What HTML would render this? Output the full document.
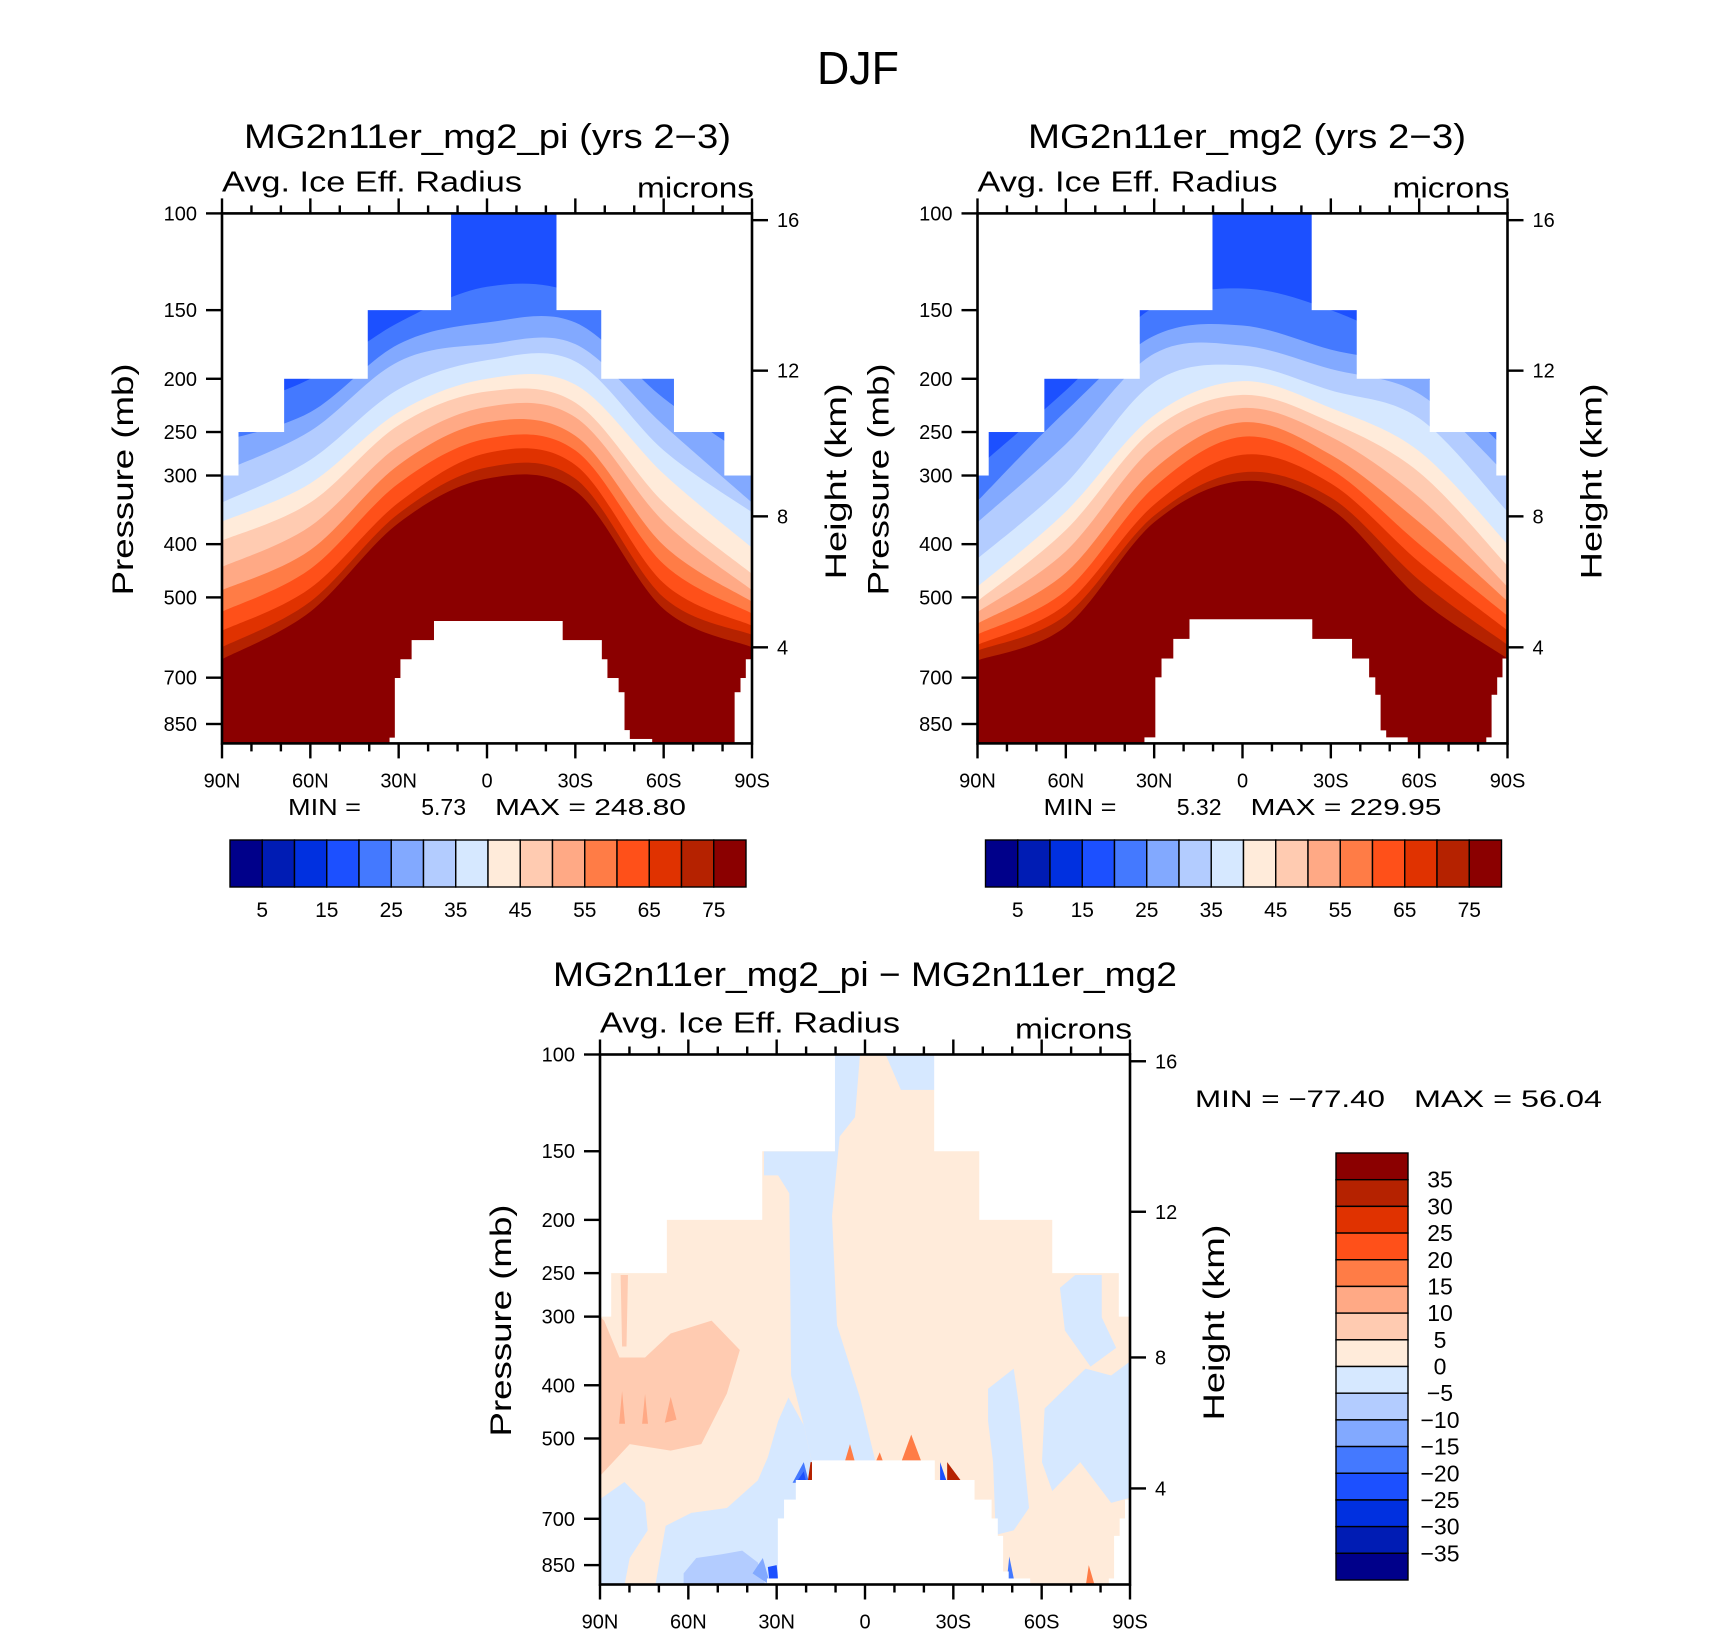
<!DOCTYPE html>
<html><head><meta charset="utf-8"><style>
html,body{margin:0;padding:0;background:#fff;}
svg{display:block;font-family:"Liberation Sans",sans-serif;}
</style></head><body>
<svg id="fig" width="1710" height="1631" viewBox="0 0 1710 1631" xmlns="http://www.w3.org/2000/svg"></svg>
<script>
// ---------- data ----------
const palette=['#00008a','#001cb4','#0030e0','#1c50ff','#4479ff','#82a9ff','#b3ccff','#d6e8ff','#ffebda','#ffcbb1','#ffa985','#ff7c46','#ff5019','#e03200','#b52200','#8b0000'];
const cbLabels=['5','15','25','35','45','55','65','75'];
const diffLabels=['35','30','25','20','15','10','5','0','\u22125','\u221210','\u221215','\u221220','\u221225','\u221230','\u221235'];
const latTicks=[90,60,30,0,-30,-60,-90];
const latLabels=['90N','60N','30N','0','30S','60S','90S'];
const presTicks=[100,150,200,250,300,400,500,700,850];
const heightTicks=[16,12,8,4];
const bandLats=[90,60,30,0,-30,-60,-90];
const bandLevels=[20,25,30,35,40,45,50,55,60,65,70,75];
const bandsPI=[
 [230,200,158,136,140,185,250],
 [260,230,173,158,158,217,280],
 [295,249,186,173,173,243,336],
 [336,281,209,185,186,270,350],
 [364,310,230,200,205,298,406],
 [394,336,243,211,221,336,453],
 [440,371,265,225,235,364,485],
 [485,410,287,240,254,402,509],
 [531,444,310,257,270,435,535],
 [575,481,336,273,287,471,563],
 [616,509,352,290,304,500,585],
 [648,531,366,304,320,525,616]];
const bandsMG2=[
 [290,210,148,137,150,180,240],
 [334,229,167,160,177,195,270],
 [365,263,180,174,192,213,300],
 [425,310,203,189,210,236,349],
 [478,349,233,202,226,271,400],
 [508,377,247,214,240,296,438],
 [532,412,266,226,255,329,478],
 [558,451,292,240,275,365,508],
 [584,486,315,255,292,400,540],
 [610,515,339,275,310,431,574],
 [625,539,355,296,329,465,610],
 [651,565,365,307,345,502,646]];
const topPI=[[90,84.5,300],[84.5,69,250],[69,40.6,200],[40.6,12.3,150],[12.3,-23.7,100],[-23.7,-38.9,150],[-38.9,-63.6,200],[-63.6,-80.7,250],[-80.7,-90,300]];
const terrPI=[[33,31.2,900],[31.2,29.3,701],[29.3,25.5,648],[25.5,17.9,598],[17.9,-25.6,552],[-25.6,-38.9,598],[-38.9,-40.8,648],[-40.8,-44.6,701],[-44.6,-46.6,744],[-46.6,-48.4,872],[-48.4,-56,905],[-84.2,-86.2,744],[-86.2,-88,701],[-88,-90,648]];
const topMG2=[[90,86.3,300],[86.3,67.4,250],[67.4,35,200],[35,10.3,150],[10.3,-23.6,100],[-23.6,-38.9,150],[-38.9,-63.7,200],[-63.7,-86.3,250],[-86.3,-90,300]];
const terrMG2=[[33.2,29.5,899],[29.5,27.4,699],[27.4,23.4,646],[23.4,17.9,595],[17.9,-23.6,548],[-23.6,-37.1,595],[-37.1,-42.9,646],[-42.9,-45,699],[-45,-46.8,752],[-46.8,-48.7,873],[-48.7,-56,899],[-82.9,-84.7,899],[-84.7,-86.6,752],[-86.6,-88.4,699],[-88.4,-90,646]];
// difference regions: [lat, pressure] vertices, with colour index
const diffBlobA=[[90,300],[88.6,305],[83.4,356],[74.7,356],[66,322],[52.1,305],[42.5,345],[46.9,414],[55.6,512],[66,526],[79.9,512],[90,585]];
const diffStreak=[[83,252],[80.5,252],[81,340],[82.5,340]];
const diffSpot1=[[82.5,410],[83.5,470],[81.5,470]];
const diffSpot2=[[74.7,415],[75.7,470],[73.7,470]];
const diffSpot3=[[66,420],[68,468],[64,462]];
const diffBlueB=[[34.3,150],[10.3,150],[10.3,100],[1.7,100],[3.4,130],[8.6,141],[11.2,197],[9.5,311],[1.7,421],[-3.6,552],[18,552],[20.8,473],[25.1,384],[25.7,179],[29.5,166],[34.3,166]];
const diffBlueC1=[[90,645],[81.7,600],[74.7,655],[73.8,735],[79.9,825],[81.7,925],[90,925]];
const diffBlueC2=[[71.2,925],[67.7,721],[59,683],[46.9,669],[36.4,596],[33,541],[29.5,465],[26,421],[20.8,473],[18,552],[19,925]];
const diffBlueC3=[[61.6,880],[57.3,825],[48.6,812],[41.7,800],[36.4,841],[33.8,925],[61.6,925]];
const diffBlueC4=[[38.2,880],[34.7,825],[32.1,925]];
const diffBlueC5=[[33,857],[30,850],[29.5,900],[32.5,905]];
const diffBlueD1=[[-41.8,406],[-50.5,373],[-52.2,431],[-55.7,669],[-50.5,735],[-44.4,749],[-43.5,552],[-41.8,465]];
const diffBlueD2=[[-90,362],[-83.6,384],[-74.9,373],[-61,441],[-60.1,552],[-63.6,623],[-73.1,552],[-83.6,655],[-90,641]];
const diffBlueD3=[[-66.2,266],[-71.4,252],[-80.4,252],[-80.4,301],[-85.3,342],[-76.6,370],[-67.9,318]];
const diffBlueTop=[[-7,100],[-12.2,116],[-23.6,116],[-23.7,100]];
const diffE1=[[24.6,602],[20.8,552],[19,602]];
const diffE2=[[23.4,602],[20.8,574],[19.9,602]];
const diffE3=[[19.5,602],[18.5,552],[18,552],[18,602]];
const diffE4=[[-25.5,552],[-27.9,602],[-25.5,602]];
const diffE5=[[-27.9,552],[-33.1,602],[-27.9,602]];
const diffE6=[[-12.3,552],[-15.7,492],[-19.2,552]];
const diffE7=[[6.9,552],[5.1,512],[3.4,552]];
const diffE8=[[-3.6,552],[-5,530],[-6.2,552]];
const diffE9=[[-75,925],[-76,850],[-78,925]];
const diffE10=[[-48,925],[-49,820],[-51,925]];
const diffRegions=[[diffBlobA,9],[diffStreak,9],[diffSpot1,10],[diffSpot2,10],[diffSpot3,10],[diffBlueB,7],[diffBlueC1,7],[diffBlueC2,7],[diffBlueC3,6],[diffBlueC4,5],[diffBlueC5,3],[diffBlueD1,7],[diffBlueD2,7],[diffBlueD3,7],[diffBlueTop,7],[diffE1,4],[diffE2,3],[diffE3,14],[diffE4,3],[diffE5,14],[diffE6,11],[diffE7,11],[diffE8,11],[diffE9,11],[diffE10,4]];

// ---------- helpers ----------
const NS='http://www.w3.org/2000/svg';
const svg=document.getElementById('fig');
const W=530,H=530,PBOT=922;
function mk(tag,parent){const e=document.createElementNS(NS,tag);parent.appendChild(e);return e;}
function setA(e,o){for(const k in o)e.setAttribute(k,o[k]);return e;}
function txt(parent,s,x,y,size,anchor,len){const t=mk('text',parent);setA(t,{x:x,y:y,'font-size':size,'text-anchor':anchor||'start',fill:'#000'});if(len){t.setAttribute('textLength',len);t.setAttribute('lengthAdjust','spacingAndGlyphs');}t.textContent=s;return t;}
function scales(x0,y0){return{x:lat=>x0+(90-lat)/180*W,y:p=>y0+Math.log(p/100)/Math.log(PBOT/100)*H};}
function stdP(km){const z=km*1000;if(z<=11000)return 1013.25*Math.pow(1-2.25577e-5*z,5.25588);return 226.32*Math.exp(-(z-11000)/6341.6);}
function smooth(pts){let d='M'+pts[0][0]+','+pts[0][1];for(let i=0;i<pts.length-1;i++){const p0=pts[i-1]||pts[i],p1=pts[i],p2=pts[i+1],p3=pts[i+2]||p2;const c1=[p1[0]+(p2[0]-p0[0])/6,p1[1]+(p2[1]-p0[1])/6],c2=[p2[0]-(p3[0]-p1[0])/6,p2[1]-(p3[1]-p1[1])/6];d+=' C'+c1+' '+c2+' '+p2;}return d;}

function axes(g,s,x0,y0,cfg){
  const fr=mk('rect',g);setA(fr,{x:x0,y:y0,width:W,height:H,fill:'none',stroke:'#000','stroke-width':2.6});
  
  for(let lat=90;lat>=-90;lat-=10){const X=s.x(lat);const major=(lat%30===0);const L=major?15:8;
    const b=mk('line',g);setA(b,{x1:X,x2:X,y1:y0+H,y2:y0+H+L,stroke:'#000','stroke-width':2.4});
    
    const t=mk('line',g);setA(t,{x1:X,x2:X,y1:y0,y2:y0-L,stroke:'#000','stroke-width':2.4});
    }
  latTicks.forEach((lat,i)=>{const t=txt(g,latLabels[i],s.x(lat),y0+H+44,20,'middle');
    });
  presTicks.forEach(p=>{const Y=s.y(p);const l=mk('line',g);setA(l,{x1:x0-16,x2:x0,y1:Y,y2:Y,stroke:'#000','stroke-width':2.4});
    
    const t=txt(g,String(p),x0-25,Y+7,20,'end');});
  heightTicks.forEach(h=>{const Y=s.y(stdP(h));const l=mk('line',g);setA(l,{x1:x0+W,x2:x0+W+16,y1:Y,y2:Y,stroke:'#000','stroke-width':2.4});
    
    const t=txt(g,String(h),x0+W+25,Y+7,20,'start');});
  const py=mk('text',g);setA(py,{transform:'translate('+(x0-89)+','+(y0+266)+') rotate(-90)','font-size':30,'text-anchor':'middle',textLength:232,lengthAdjust:'spacingAndGlyphs'});py.textContent='Pressure  (mb)';
  
  const hy=mk('text',g);setA(hy,{transform:'translate('+(x0+W+94)+','+(y0+268)+') rotate(-90)','font-size':30,'text-anchor':'middle',textLength:196,lengthAdjust:'spacingAndGlyphs'});hy.textContent='Height  (km)';
  
  const a=txt(g,'Avg. Ice Eff. Radius',x0,y0-22,29,'start',300);
  const m=txt(g,'microns',x0+W+2,y0-16,29,'end',117);
}
function masks(g,s,y0,top,terr){
  top.forEach(r=>{const a=mk('rect',g);setA(a,{x:s.x(r[0])-0.3,y:y0-1,width:s.x(r[1])-s.x(r[0])+0.6,height:s.y(r[2])-y0+1,fill:'#fff'});
    });
  terr.forEach(r=>{const a=mk('rect',g);setA(a,{x:s.x(r[0])-0.3,y:s.y(r[2]),width:s.x(r[1])-s.x(r[0])+0.6,height:y0+H-s.y(r[2])+1,fill:'#fff'});
    });
}
let clipN=0;
function clipFor(g,x0,y0){const id='c'+(clipN++);const cp=mk('clipPath',g);cp.setAttribute('id',id);const r=mk('rect',cp);setA(r,{x:x0,y:y0,width:W,height:H});const cg=mk('g',g);cg.setAttribute('clip-path','url(#'+id+')');return cg;}

function meanPanel(name,x0,y0,bands,top,terr,title,tx0,tx1,minS,maxS){
  const g=mk('g',svg);
  const s=scales(x0,y0);
  const cg=clipFor(g,x0,y0);
  const base=mk('rect',cg);setA(base,{x:x0,y:y0,width:W,height:H,fill:palette[3]});
  
  bands.forEach((row,k)=>{
    const pts=bandLats.map((lat,i)=>[s.x(lat),s.y(row[i])]);
    const p=mk('path',cg);setA(p,{d:smooth(pts)+' L'+(x0+W+2)+','+(y0+H+2)+' L'+(x0-2)+','+(y0+H+2)+' Z',fill:palette[4+k]});
    
  });
  masks(cg,s,y0,top,terr);
  axes(g,s,x0,y0);
  const t=txt(g,title,tx0,148,34,'start',tx1-tx0);
  const m1=txt(g,'MIN  =',x0+66,815,23,'start',73);
  const m2=txt(g,minS,x0+244,815,23,'end');
  const m3=txt(g,'MAX  =  '+maxS,x0+273,815,23,'start',191);
  // colorbar
  const cx=x0+8,cw=516,cy=840,ch=47,bw=cw/16;
  palette.forEach((c,i)=>{const r=mk('rect',g);setA(r,{x:cx+i*bw,y:cy,width:bw,height:ch,fill:c,stroke:'#000','stroke-width':1.4});
    });
  cbLabels.forEach((l,i)=>{const t2=txt(g,l,cx+(2*i+1)*bw,917,21,'middle');});
}

// figure title
const dj=txt(svg,'DJF',858,84,46,'middle',82);

meanPanel('panel-mg2-pi',222,213.4,bandsPI,topPI,terrPI,'MG2n11er_mg2_pi (yrs 2\u22123)',244,731,'5.73','248.80');
meanPanel('panel-mg2',977.5,213.4,bandsMG2,topMG2,terrMG2,'MG2n11er_mg2 (yrs 2\u22123)',1028,1466,'5.32','229.95');

// difference panel
(function(){
  const x0=600,y0=1054.5;
  const g=mk('g',svg);
  const s=scales(x0,y0);
  const cg=clipFor(g,x0,y0);
  const base=mk('rect',cg);setA(base,{x:x0,y:y0,width:W,height:H,fill:palette[8]});
  
  diffRegions.forEach(r=>{const pts=r[0].map(v=>s.x(v[0])+','+s.y(v[1])).join(' ');
    const p=mk('polygon',cg);setA(p,{points:pts,fill:palette[r[1]]});
    });
  masks(cg,s,y0,topMG2,terrMG2);
  axes(g,s,x0,y0);
  const t=txt(g,'MG2n11er_mg2_pi \u2212 MG2n11er_mg2',553,986,34,'start',624);
  const m1=txt(g,'MIN  =  \u221277.40',1195,1107,24,'start',190);
  const m2=txt(g,'MAX  =    56.04',1414,1107,24,'start',188);
  const cx=1336,cw=72,cy=1153,ch=427,bh=ch/16;
  palette.slice().reverse().forEach((c,i)=>{const r=mk('rect',g);setA(r,{x:cx,y:cy+i*bh,width:cw,height:bh,fill:c,stroke:'#000','stroke-width':1.4});
    });
  diffLabels.forEach((l,i)=>{const t2=txt(g,l,1440,cy+(i+1)*bh+8,23,'middle');});
})();
</script>
</body></html>
